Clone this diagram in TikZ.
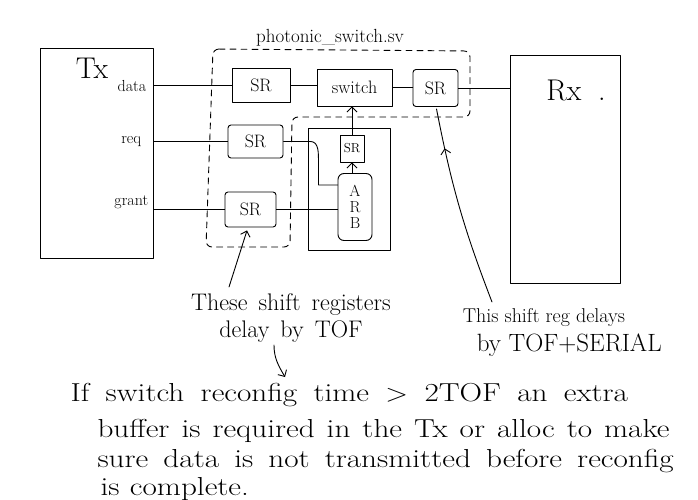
\documentclass[tikz,border=0pt]{standalone}
\usetikzlibrary{arrows.meta,decorations.markings,calc}
\newcommand{\wordgap}[1]{\spaceskip=#1\relax}
\begin{document}
\begin{tikzpicture}[x=1pt,y=-1pt, line width=0.9pt, line cap=round, line join=round,
  box/.style={draw, inner sep=0pt},
  fs/.style={font=\fontsize{#1}{#1}\selectfont},
  mt/.style={anchor=west, xscale=1.2, transform shape, font=\fontsize{26}{26}\selectfont, execute at begin node={\wordgap{#1}}},
  barb/.style={-{Straight Barb[length=5pt,width=10pt]}},
  midbarb/.style={decoration={markings, mark=at position #1 with {\arrow{Straight Barb[length=5pt,width=10pt]}}}, postaction={decorate}},
]
\useasboundingbox (0,0) rectangle (698,500);
% Tx
\node[box, minimum width=113pt, minimum height=210pt] (tx) at (96.5,153) {};
\node[fs=30] (txl) at (92,68) {Tx};
\node[fs=16, anchor=east] (data) at (150,86) {data};
\node[fs=16, anchor=east] (req) at (145,142) {req};
\node[fs=16, anchor=east] (grant) at (152,202) {grant};
% Rx
\node[box, minimum width=110pt, minimum height=228pt] (rx) at (565,169) {};
\node[fs=30] (rxl) at (576,90) {Rx\;\;.};
% photonic switch region
\draw[dash pattern=on 6pt off 5pt, rounded corners=6pt] (213,49) -- (470,51) -- (470,117) -- (292,117) -- (290,247) -- (206,247) -- cycle;
\node[fs=19] (title) at (330,38) {photonic\textunderscore switch.sv};
\node[box, minimum width=58pt, minimum height=34pt, fs=18] (sr1) at (261,85) {SR};
\node[box, minimum width=75pt, minimum height=37pt, fs=18] (sw) at (354.5,87.5) {switch};
\node[box, minimum width=45pt, minimum height=37pt, fs=18, rounded corners=3pt] (sr3) at (435.5,88) {SR};
\node[box, minimum width=55pt, minimum height=33pt, fs=18, rounded corners=3pt] (sr2) at (255.5,141.5) {SR};
\node[box, minimum width=51pt, minimum height=35pt, fs=18, rounded corners=3pt] (sr4) at (250.5,209.5) {SR};
% arbiter block
\node[box, minimum width=82pt, minimum height=122pt] (arbblk) at (349,189) {};
\node[box, minimum width=24pt, minimum height=27pt, fs=13] (sr5) at (352,148.5) {SR};
\node[box, minimum width=34pt, minimum height=67pt, fs=16, align=center, rounded corners=6pt] (arb) at (355,207) {A\\R\\B};
% connectors
\draw (sr1.west -| tx.east) -- (sr1.west);
\draw (sr1.east) -- (sr1.east -| sw.west);
\draw (sw.east) -- (sw.east -| sr3.west);
\draw (sr3.east) -- (sr3.east -| rx.west);
\draw (sr2.west -| tx.east) -- (sr2.west);
\draw (sr4.west -| tx.east) -- (sr4.west);
\draw (sr2.east) -- ++(27,0) to[out=0,in=90] ++(8,20) |- ([yshift=22pt]arb.west);
\draw (sr4.east) -- (sr4.east -| arb.west);
\draw[barb] (sr5.south |- arb.north) -- (sr5.south);
\draw[barb] (sr5.north) -- (sr5.north |- sw.south);
% annotations
\node[font=\fontsize{24}{27}\selectfont, execute at begin node={\wordgap{11pt}}, align=center] (note1) at (291,318) {These shift registers\\delay by TOF};
\coordinate (a1) at (229,287);
\draw[barb] (a1) -- ([xshift=-3.5pt, yshift=-3pt]sr4.south);
\node[font=\fontsize{20}{29}\selectfont, align=left, anchor=west] (note2) at (459,333) {This shift reg delays\\\hspace*{14pt}{\fontsize{25}{29}\selectfont by TOF+SERIAL}};
\coordinate (a2) at (492,302);
\draw[midbarb=0.8] (a2) to[bend left=5] ([xshift=1pt, yshift=-2pt]sr3.south);
\coordinate (a3s) at (274,345);
\coordinate (a3e) at (285,377);
\draw[barb] (a3s) to[out=-90,in=120] (a3e);
% main note
\node[mt=13.6pt] (m1) at (66,395) {If switch reconfig time $>$ 2TOF an extra};
\node[mt=10pt] (m2) at (93,431) {buffer is required in the Tx or alloc to make};
\node[mt=12.6pt] (m3) at (93,461) {sure data is not transmitted before reconfig};
\node[mt=8.7pt] (m4) at (96,489) {is complete.};
\end{tikzpicture}
\end{document}
